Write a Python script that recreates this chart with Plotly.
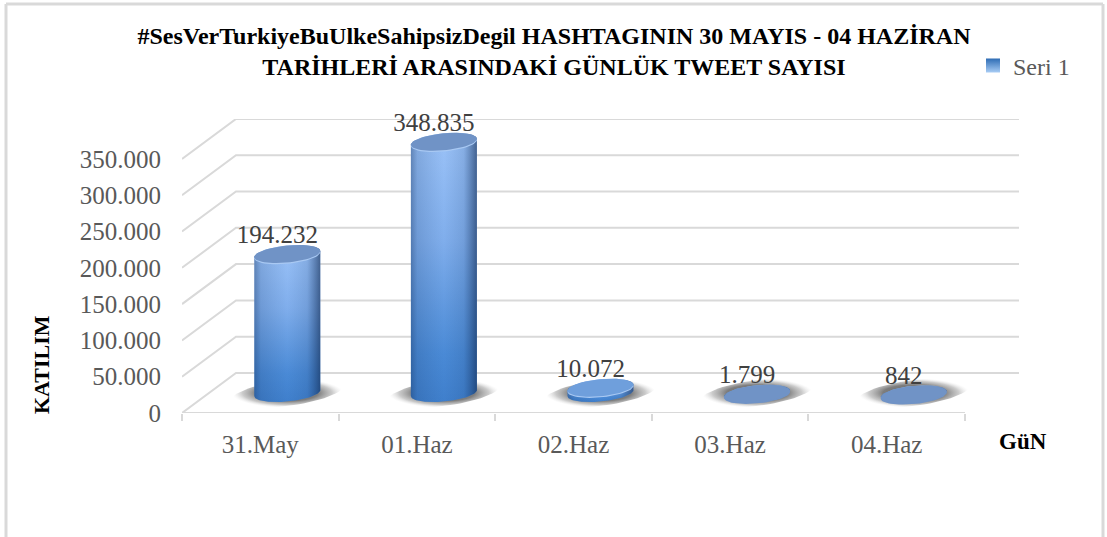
import numpy as np
import plotly.graph_objects as go

categories = ["31.May", "01.Haz", "02.Haz", "03.Haz", "04.Haz"]
values = [194232, 348835, 10072, 1799, 842]
y_ticks = [0, 50000, 100000, 150000, 200000, 250000, 300000, 350000]
series_name = "Seri 1"
title_text = ("<b>#SesVerTurkiyeBuUlkeSahipsizDegil HASHTAGININ 30 MAYIS - 04 HAZİRAN<br>"
              "TARİHLERİ ARASINDAKİ GÜNLÜK TWEET SAYISI</b>")

W, H = 1107, 537
L, R, T, B = 182, 1019, 119, 413
N = len(categories)
CAT_PX = 156.6
YMAX = 405000
XMAX = (R - L) / CAT_PX
PX_X = 1 / CAT_PX            # x units per pixel
PX_Y = YMAX / (B - T)        # y units per pixel
DEPTH_X, DEPTH_Y = 54 * PX_X, 40 * PX_Y


def fmt(v):
    return f"{v:,d}".replace(",", ".")


def ellipse(cx, cy, a, b, s, t0=0, t1=2 * np.pi, n=60):
    t = np.linspace(t0, t1, n)
    x = cx + a * PX_X * np.cos(t)
    y = cy + (b * np.sin(t) + s * np.cos(t)) * PX_Y
    return x, y


fig = go.Figure()

# walls: one depth-shifted polyline per tick
for v in y_ticks:
    fig.add_trace(go.Scatter(
        x=[0, DEPTH_X, N + DEPTH_X], y=[v, v + DEPTH_Y, v + DEPTH_Y],
        mode="lines", line=dict(color="#d9d9d9", width=2),
        showlegend=False, hoverinfo="skip", cliponaxis=False))
# floor front edge
fig.add_trace(go.Scatter(
    x=[0, N], y=[0, 0], mode="lines", line=dict(color="#d9d9d9", width=2),
    showlegend=False, hoverinfo="skip", cliponaxis=False))

A, BB, S = 33, 8.5, 3
BASE = 0.5 * DEPTH_Y
TOP_SHIFT = -2 * PX_Y
for i, v in enumerate(values):
    cx = i + 0.5 + DEPTH_X / 2
    top = BASE + v + TOP_SHIFT
    # floor shadow
    sx, sy = ellipse(cx, BASE, 56, 13, 7)
    fig.add_trace(go.Scatter(
        x=sx, y=sy, mode="lines", line=dict(width=0), fill="toself",
        fillgradient=dict(type="radial", colorscale=[
            [0, "rgba(60,60,60,0.8)"], [0.55, "rgba(75,75,75,0.72)"],
            [0.8, "rgba(130,130,130,0.42)"], [1, "rgba(210,210,210,0)"]]),
        showlegend=False, hoverinfo="skip"))
    # cylinder side
    bx, by = ellipse(cx, BASE, A, BB, S, np.pi, 2 * np.pi)
    tx, ty = ellipse(cx, top, A, BB, S, 0, np.pi)
    px, py = np.r_[bx, tx, bx[0]], np.r_[by, ty, by[0]]
    fig.add_trace(go.Scatter(
        x=px, y=py, mode="lines", line=dict(width=0), fill="toself",
        fillgradient=dict(type="vertical", colorscale=[
            [0, "#3f7fcc"], [0.18, "#4a8ad6"], [0.6, "#80aeec"], [1, "#9cc3f8"]]),
        showlegend=False, hoverinfo="skip"))
    fig.add_trace(go.Scatter(
        x=px, y=py, mode="lines", line=dict(width=0), fill="toself",
        fillgradient=dict(type="horizontal", colorscale=[
            [0, "rgba(20,50,95,0.42)"], [0.1, "rgba(25,60,110,0.18)"],
            [0.5, "rgba(40,80,130,0)"], [0.8, "rgba(25,60,110,0.14)"],
            [1, "rgba(15,40,80,0.62)"]]),
        showlegend=False, hoverinfo="skip"))
    # rim and top cap
    rx, ry = ellipse(cx, top - 1.2 * PX_Y, A, BB, S)
    fig.add_trace(go.Scatter(
        x=rx, y=ry, mode="lines", line=dict(width=0), fill="toself",
        fillcolor="#a9c9f3" if v > 5000 else "#7093c6",
        showlegend=False, hoverinfo="skip"))
    ex, ey = ellipse(cx, top, A, BB, S)
    fig.add_trace(go.Scatter(
        x=ex, y=ey, mode="lines", line=dict(width=0), fill="toself",
        fillcolor="#7093c6" if v < 5000 or v > 100000 else "#6f9fdc",
        showlegend=False, hoverinfo="skip"))

# data labels
fig.add_trace(go.Scatter(
    x=[i + 0.5 + DEPTH_X / 2 - 10 * PX_X for i in range(N)],
    y=[BASE + TOP_SHIFT + v + 17 * PX_Y for v in values],
    mode="text", text=[fmt(v) for v in values], textposition="middle center",
    textfont=dict(family="Liberation Serif", size=25, color="#404040"),
    showlegend=False, hoverinfo="skip", cliponaxis=False))

# legend entry
fig.add_trace(go.Scatter(
    x=[None], y=[None], mode="markers", name=series_name,
    marker=dict(symbol="square", size=14, color="#2f6db5",
                gradient=dict(type="vertical", color="#a9cdf5"),
                line=dict(width=0))))

ln = dict(color="#d9d9d9", width=3)
shapes = []
for (a, b, c, d) in [(6, 4, 6, H + 5), (6, 4, 1103, 4), (1103, 4, 1103, H + 5)]:
    shapes.append(dict(type="line", xref="paper", yref="paper", line=ln,
                       x0=(a - L) / (R - L), x1=(c - L) / (R - L),
                       y0=(B - b) / (B - T), y1=(B - d) / (B - T)))

fig.update_layout(
    width=W, height=H, autosize=False,
    margin=dict(l=L, r=W - R, t=T, b=H - B),
    plot_bgcolor="white", paper_bgcolor="white",
    separators=",.",
    shapes=shapes,
    title=dict(text=title_text, x=554 / W, xanchor="center", y=1 - 44 / H, yanchor="middle",
               font=dict(family="Liberation Serif", size=24, color="#000000")),
    legend=dict(x=(973 - L) / (R - L), y=(B - 66) / (B - T), yanchor="middle", xanchor="left",
                bgcolor="rgba(0,0,0,0)",
                font=dict(family="Liberation Serif", size=24, color="#595959")),
    xaxis=dict(
        range=[0, XMAX], showgrid=False, zeroline=False, showline=False,
        tickmode="array", tickvals=[i + 0.5 for i in range(N)], ticktext=categories,
        ticks="", ticklabelstandoff=14,
        tickfont=dict(family="Liberation Serif", size=25, color="#595959"),
        minor=dict(tickmode="array", tickvals=list(range(N + 1)), ticks="outside",
                   ticklen=7, tickwidth=2, tickcolor="#d9d9d9", showgrid=False),
    ),
    yaxis=dict(
        range=[0, YMAX], showgrid=False, zeroline=False, showline=False,
        tickmode="array", tickvals=y_ticks, tickformat=",d", ticks="",
        ticklabelstandoff=20,
        tickfont=dict(family="Liberation Serif", size=25, color="#595959"),
    ),
    annotations=[
        dict(text="<b>KATILIM</b>", xref="paper", yref="paper", showarrow=False, textangle=-90,
             xanchor="center", yanchor="middle",
             x=(41 - L) / (R - L), y=(B - 365) / (B - T),
             font=dict(family="Liberation Serif", size=22, color="#000000")),
        dict(text="<b>GüN</b>", xref="paper", yref="paper", showarrow=False,
             xanchor="center", yanchor="middle",
             x=(1023 - L) / (R - L), y=(B - 441) / (B - T),
             font=dict(family="Liberation Serif", size=23, color="#000000")),
    ],
)

fig.write_html("out.html", config={"displayModeBar": False},
               post_script="document.body.style.margin='0';window.dispatchEvent(new Event('resize'));")
